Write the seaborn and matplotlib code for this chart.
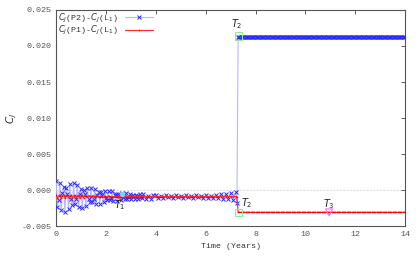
import numpy as np
import pandas as pd
import matplotlib
matplotlib.use("Agg")
import matplotlib.pyplot as plt
import seaborn as sns

# ---------------- data ----------------
# early, wide-oscillation part (step 0.05 yr), values in units of 1e-4
t_a = [round(0.05 * i, 2) for i in range(70)]
blue_a_e4 = [13, -23, -14, 10, -28, -4, 4, -30, 3, -5,
             -27, 9, -13, -21, 10, -20, -13, 7, -24, -5,
             1, -25, 0, -6, -22, 3, -12, -17, 3, -16,
             -12, 1, -19, -7, -3, -19, -3, -7, -17, -1,
             -11, -14, -1, -14, -11, -2, -15, -7, -5, -15,
             -5, -8, -14, -4, -10, -12, -4, -12, -10, -5,
             -13, -8, -7, -12, -7, -8, -12, -6, -10, -11]
red_a_e4 = [-7, -11, -8, -7, -11, -8, -7, -11, -8, -7,
            -11, -8, -7, -11, -8, -7, -11, -8, -7, -11,
            -8, -7, -11, -8, -8, -10, -8, -8, -10, -8,
            -8, -10, -8, -8, -10, -9, -8, -10, -9, -8,
            -10, -9, -8, -10, -9, -9, -10, -9, -9, -10,
            -9, -9, -9, -9, -9, -9, -9, -9, -9, -9,
            -9, -9, -9, -9, -9, -9, -9, -9, -9, -9]
# calmer part before the jump (step 0.1 yr)
t_b = [3.5, 3.6, 3.7, 3.8, 3.9,
       4.0, 4.1, 4.2, 4.3, 4.4, 4.5, 4.6, 4.7, 4.8, 4.9,
       5.0, 5.1, 5.2, 5.3, 5.4, 5.5, 5.6, 5.7, 5.8, 5.9,
       6.0, 6.1, 6.2, 6.3, 6.4, 6.5, 6.6, 6.7, 6.8, 6.9,
       7.0, 7.1, 7.2, 7.25]
blue_b_e4 = [-6, -12, -8, -12, -7,
             -7, -11, -8, -11, -7, -10, -8, -11, -7, -10,
             -8, -11, -7, -10, -8, -11, -7, -10, -8, -11,
             -7, -11, -8, -11, -7, -11, -6, -12, -5, -13,
             -4, -14, -3, -18]
red_b_e4 = [-9] * len(t_b)
# after the jump (step 0.05 yr)
t_c = [round(7.3 + 0.05 * i, 2) for i in range(135)]
blue_late_value = 0.0213
red_late_value = -0.0031

events_x = [2.65, 7.32, 7.32, 10.95]
events_y = [-0.00058, 0.0214, -0.0031, -0.0031]
event_labels = ["$T_1$", "$T_2$", "$T_2$", "$T_3$"]
label_x = [2.55, 7.25, 7.65, 10.95]
label_y = [-0.0021, 0.0230, -0.0018, -0.0019]

series_labels = [r"$C_J$(P2)-$C_J$(L$_1$)", r"$C_J$(P1)-$C_J$(L$_1$)"]
xticks = [0, 2, 4, 6, 8, 10, 12, 14]
yticks = [-0.005, 0.000, 0.005, 0.010, 0.015, 0.020, 0.025]

# ---------------- build frame ----------------
t_all = t_a + t_b + t_c
blue_all = [v * 1e-4 for v in blue_a_e4 + blue_b_e4] + [blue_late_value] * len(t_c)
red_all = [v * 1e-4 for v in red_a_e4 + red_b_e4] + [red_late_value] * len(t_c)
df = pd.DataFrame({"t": t_all, "blue": blue_all, "red": red_all})

sns.set_theme(style="white")
plt.rcParams["font.family"] = ["Liberation Mono", "DejaVu Sans Mono"]
plt.rcParams["mathtext.fontset"] = "dejavusans"

fig = plt.figure(figsize=(4.19, 2.56), dpi=100)
ax = fig.add_axes([0.134, 0.117, 0.833, 0.844])

ax.axhline(0, color="#dddddd", lw=0.8, ls=(0, (2, 1)), zorder=0)

sns.lineplot(data=df, x="t", y="blue", ax=ax, color="#b8b8ff", lw=0.8,
             marker="x", markersize=3.2, markeredgecolor="#2a2aff",
             markeredgewidth=0.7, label=series_labels[0], zorder=3)
sns.lineplot(data=df, x="t", y="red", ax=ax, color="#ff3030", lw=0.9,
             marker="o", markersize=0.4, markeredgecolor="#ff0000",
             markerfacecolor="#ff0000", label=series_labels[1], zorder=4)

ax.scatter(events_x[0:1], events_y[0:1], s=8, color="#80d0ff", zorder=5)
ax.scatter(events_x[1:3], events_y[1:3], s=30, marker="s", facecolors="none",
           edgecolors="#90ee90", linewidths=0.8, zorder=5)
ax.scatter(events_x[3:4], events_y[3:4], s=25, marker="v", facecolors="none",
           edgecolors="#ff66ff", linewidths=0.8, zorder=5)
for lx, ly, lab in zip(label_x, label_y, event_labels):
    ax.text(lx, ly, lab, fontsize=7, ha="center", va="center", color="#222222")

ax.set_xlim(0, 14)
ax.set_ylim(-0.005, 0.025)
ax.set_xticks(xticks)
ax.set_yticks(yticks)
ax.set_xticklabels([str(v) for v in xticks])
ax.set_yticklabels([f"{v:.3f}" for v in yticks])
ax.tick_params(direction="in", length=3, width=0.6, top=True, right=True,
               labelsize=6, labelcolor="#555555", color="#444444", pad=3.5)
for s in ax.spines.values():
    s.set_color("#555555")
    s.set_linewidth(0.8)

ax.set_xlabel("Time (Years)", fontsize=6, color="#333333", labelpad=4)
ax.set_ylabel("$C_J$", fontsize=7.5, color="#333333")
ax.yaxis.set_label_coords(-0.105, 0.5)

leg = ax.legend(loc="upper left", frameon=False, markerfirst=False,
                fontsize=6, handlelength=3.4, borderaxespad=0.1,
                borderpad=0.1, labelspacing=-0.1, handletextpad=0.8)
for txt in leg.get_texts():
    txt.set_color("#333333")

fig.savefig("out.png", dpi=100)
